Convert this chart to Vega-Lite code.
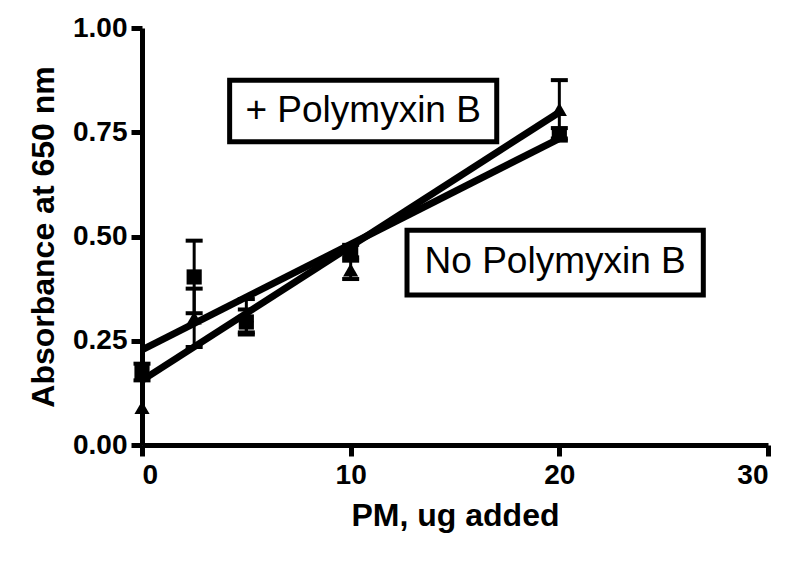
{
  "$schema": "https://vega.github.io/schema/vega-lite/v6.json",
  "description": "Absorbance at 650 nm vs PM added, with and without polymyxin B",
  "width": 626,
  "height": 417,
  "autosize": {"type": "none"},
  "padding": {"left": 142, "top": 28, "right": 32, "bottom": 117},
  "background": "white",
  "config": {
    "view": {"stroke": null},
    "font": "Liberation Sans",
    "axis": {
      "domainColor": "black",
      "domainWidth": 5,
      "tickColor": "black",
      "tickWidth": 5,
      "tickSize": 11,
      "grid": false,
      "labelFont": "Liberation Sans",
      "labelFontWeight": "bold",
      "labelFontSize": 28,
      "labelColor": "black",
      "titleFont": "Liberation Sans",
      "titleFontWeight": "bold",
      "titleFontSize": 32,
      "titleColor": "black"
    }
  },
  "datasets": {
    "points": [
      {"series": "square", "x": 0, "y": 0.175, "lo": 0.155, "hi": 0.195},
      {"series": "square", "x": 2.5, "y": 0.403, "lo": 0.316, "hi": 0.49},
      {"series": "square", "x": 5, "y": 0.295, "lo": 0.265, "hi": 0.325},
      {"series": "square", "x": 10, "y": 0.465, "lo": 0.45, "hi": 0.48},
      {"series": "square", "x": 20, "y": 0.745, "lo": 0.73, "hi": 0.76},
      {"series": "triangle", "x": 0, "y": 0.09, "lo": 0.09, "hi": 0.09},
      {"series": "triangle", "x": 2.5, "y": 0.305, "lo": 0.235, "hi": 0.375},
      {"series": "triangle", "x": 5, "y": 0.31, "lo": 0.27, "hi": 0.35},
      {"series": "triangle", "x": 10, "y": 0.42, "lo": 0.398, "hi": 0.442},
      {"series": "triangle", "x": 20, "y": 0.805, "lo": 0.735, "hi": 0.875}
    ],
    "fits": [
      {"series": "square", "x": 0, "y": 0.228},
      {"series": "square", "x": 20, "y": 0.735},
      {"series": "triangle", "x": 0, "y": 0.155},
      {"series": "triangle", "x": 20, "y": 0.798}
    ],
    "boxes": [
      {"label": "+ Polymyxin B", "x1": 4.2, "x2": 17.0, "y1": 0.727, "y2": 0.875, "cx": 10.6, "cy": 0.801},
      {"label": "No Polymyxin B", "x1": 12.7, "x2": 26.9, "y1": 0.36, "y2": 0.515, "cx": 19.8, "cy": 0.438}
    ]
  },
  "layer": [
    {
      "data": {"name": "boxes"},
      "mark": {"type": "rect", "fill": "white", "stroke": "black", "strokeWidth": 5},
      "encoding": {
        "x": {"field": "x1", "type": "quantitative", "scale": {"domain": [0, 30]},
              "axis": {"values": [0, 10, 20, 30], "title": "PM, ug added", "labelPadding": 5, "titlePadding": 11}},
        "x2": {"field": "x2"},
        "y": {"field": "y1", "type": "quantitative", "scale": {"domain": [0, 1]},
              "axis": {"values": [0, 0.25, 0.5, 0.75, 1], "format": ".2f", "title": "Absorbance at 650 nm", "labelPadding": 4, "titlePadding": 12}},
        "y2": {"field": "y2"}
      }
    },
    {
      "data": {"name": "boxes"},
      "mark": {"type": "text", "fontSize": 37, "font": "Liberation Sans", "color": "black", "align": "center", "baseline": "middle"},
      "encoding": {
        "x": {"field": "cx", "type": "quantitative"},
        "y": {"field": "cy", "type": "quantitative"},
        "text": {"field": "label"}
      }
    },
    {
      "data": {"name": "fits"},
      "mark": {"type": "line", "color": "black", "strokeWidth": 7},
      "encoding": {
        "x": {"field": "x", "type": "quantitative"},
        "y": {"field": "y", "type": "quantitative"},
        "detail": {"field": "series"}
      }
    },
    {
      "data": {"name": "points"},
      "mark": {"type": "rule", "color": "black", "strokeWidth": 3},
      "encoding": {
        "x": {"field": "x", "type": "quantitative"},
        "y": {"field": "lo", "type": "quantitative"},
        "y2": {"field": "hi"}
      }
    },
    {
      "data": {"name": "points"},
      "transform": [{"filter": "datum.hi > datum.lo"}],
      "mark": {"type": "tick", "color": "black", "orient": "horizontal", "size": 17, "thickness": 4, "opacity": 1},
      "encoding": {
        "x": {"field": "x", "type": "quantitative"},
        "y": {"field": "hi", "type": "quantitative"}
      }
    },
    {
      "data": {"name": "points"},
      "transform": [{"filter": "datum.hi > datum.lo"}],
      "mark": {"type": "tick", "color": "black", "orient": "horizontal", "size": 17, "thickness": 4, "opacity": 1},
      "encoding": {
        "x": {"field": "x", "type": "quantitative"},
        "y": {"field": "lo", "type": "quantitative"}
      }
    },
    {
      "data": {"name": "points"},
      "mark": {"type": "point", "filled": true, "color": "black", "opacity": 1, "size": 230},
      "encoding": {
        "x": {"field": "x", "type": "quantitative"},
        "y": {"field": "y", "type": "quantitative"},
        "shape": {"field": "series", "type": "nominal",
                  "scale": {"domain": ["square", "triangle"], "range": ["square", "triangle-up"]},
                  "legend": null}
      }
    }
  ]
}
